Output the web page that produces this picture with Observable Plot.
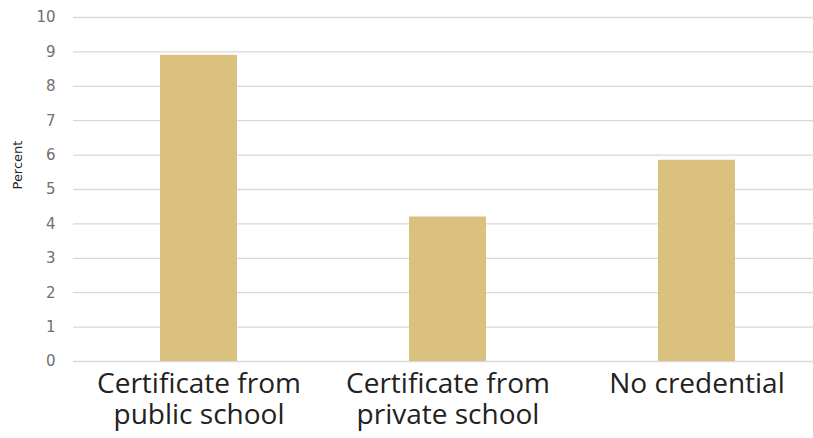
<!DOCTYPE html>
<html>
<head>
<meta charset="utf-8">
<script src="https://cdn.jsdelivr.net/npm/d3@7"></script>
<script src="https://cdn.jsdelivr.net/npm/@observablehq/plot@0.6"></script>
<style>
  html, body { margin: 0; padding: 0; background: #fff; }
</style>
</head>
<body>
<div id="chart"></div>
<script>
const categories = ["Certificate from public school", "Certificate from private school", "No credential"];
const tickLabels = ["Certificate from\npublic school", "Certificate from\nprivate school", "No credential"];
const values = [8.9, 4.2, 5.85];
const yTicks = [0, 1, 2, 3, 4, 5, 6, 7, 8, 9, 10];
const yLabel = "Percent";

const data = categories.map((c, i) => ({category: c, value: values[i]}));
const labelOf = new Map(categories.map((c, i) => [c, tickLabels[i]]));

const chart = Plot.plot({
  width: 813,
  height: 438,
  marginTop: 17,
  marginBottom: 77,
  marginLeft: 73,
  marginRight: 0,
  style: {background: "#fff"},
  x: {domain: categories, range: [73, 822], paddingInner: 0.69, paddingOuter: 0.345, label: null},
  y: {domain: [0, 10], label: null},
  marks: [
    Plot.ruleY(yTicks, {stroke: "#d9d9d9", strokeWidth: 1.3}),
    Plot.barY(data, {x: "category", y: "value", fill: "#dac27e"}),
    Plot.axisY({ticks: yTicks, tickSize: 0, tickPadding: 18, fontSize: 15, fontFamily: "DejaVu Sans", fill: "#707070", label: null}),
    Plot.axisX({tickSize: 0, tickPadding: 10, fontSize: 28, lineHeight: 1.1, fontFamily: "Open Sans", fill: "#222", tickFormat: d => labelOf.get(d), label: null}),
    Plot.text([yLabel], {frameAnchor: "left", rotate: -90, dx: -56, fontSize: 13, fontFamily: "DejaVu Sans", fill: "#222"})
  ]
});
document.getElementById("chart").appendChild(chart);
</script>
</body>
</html>
